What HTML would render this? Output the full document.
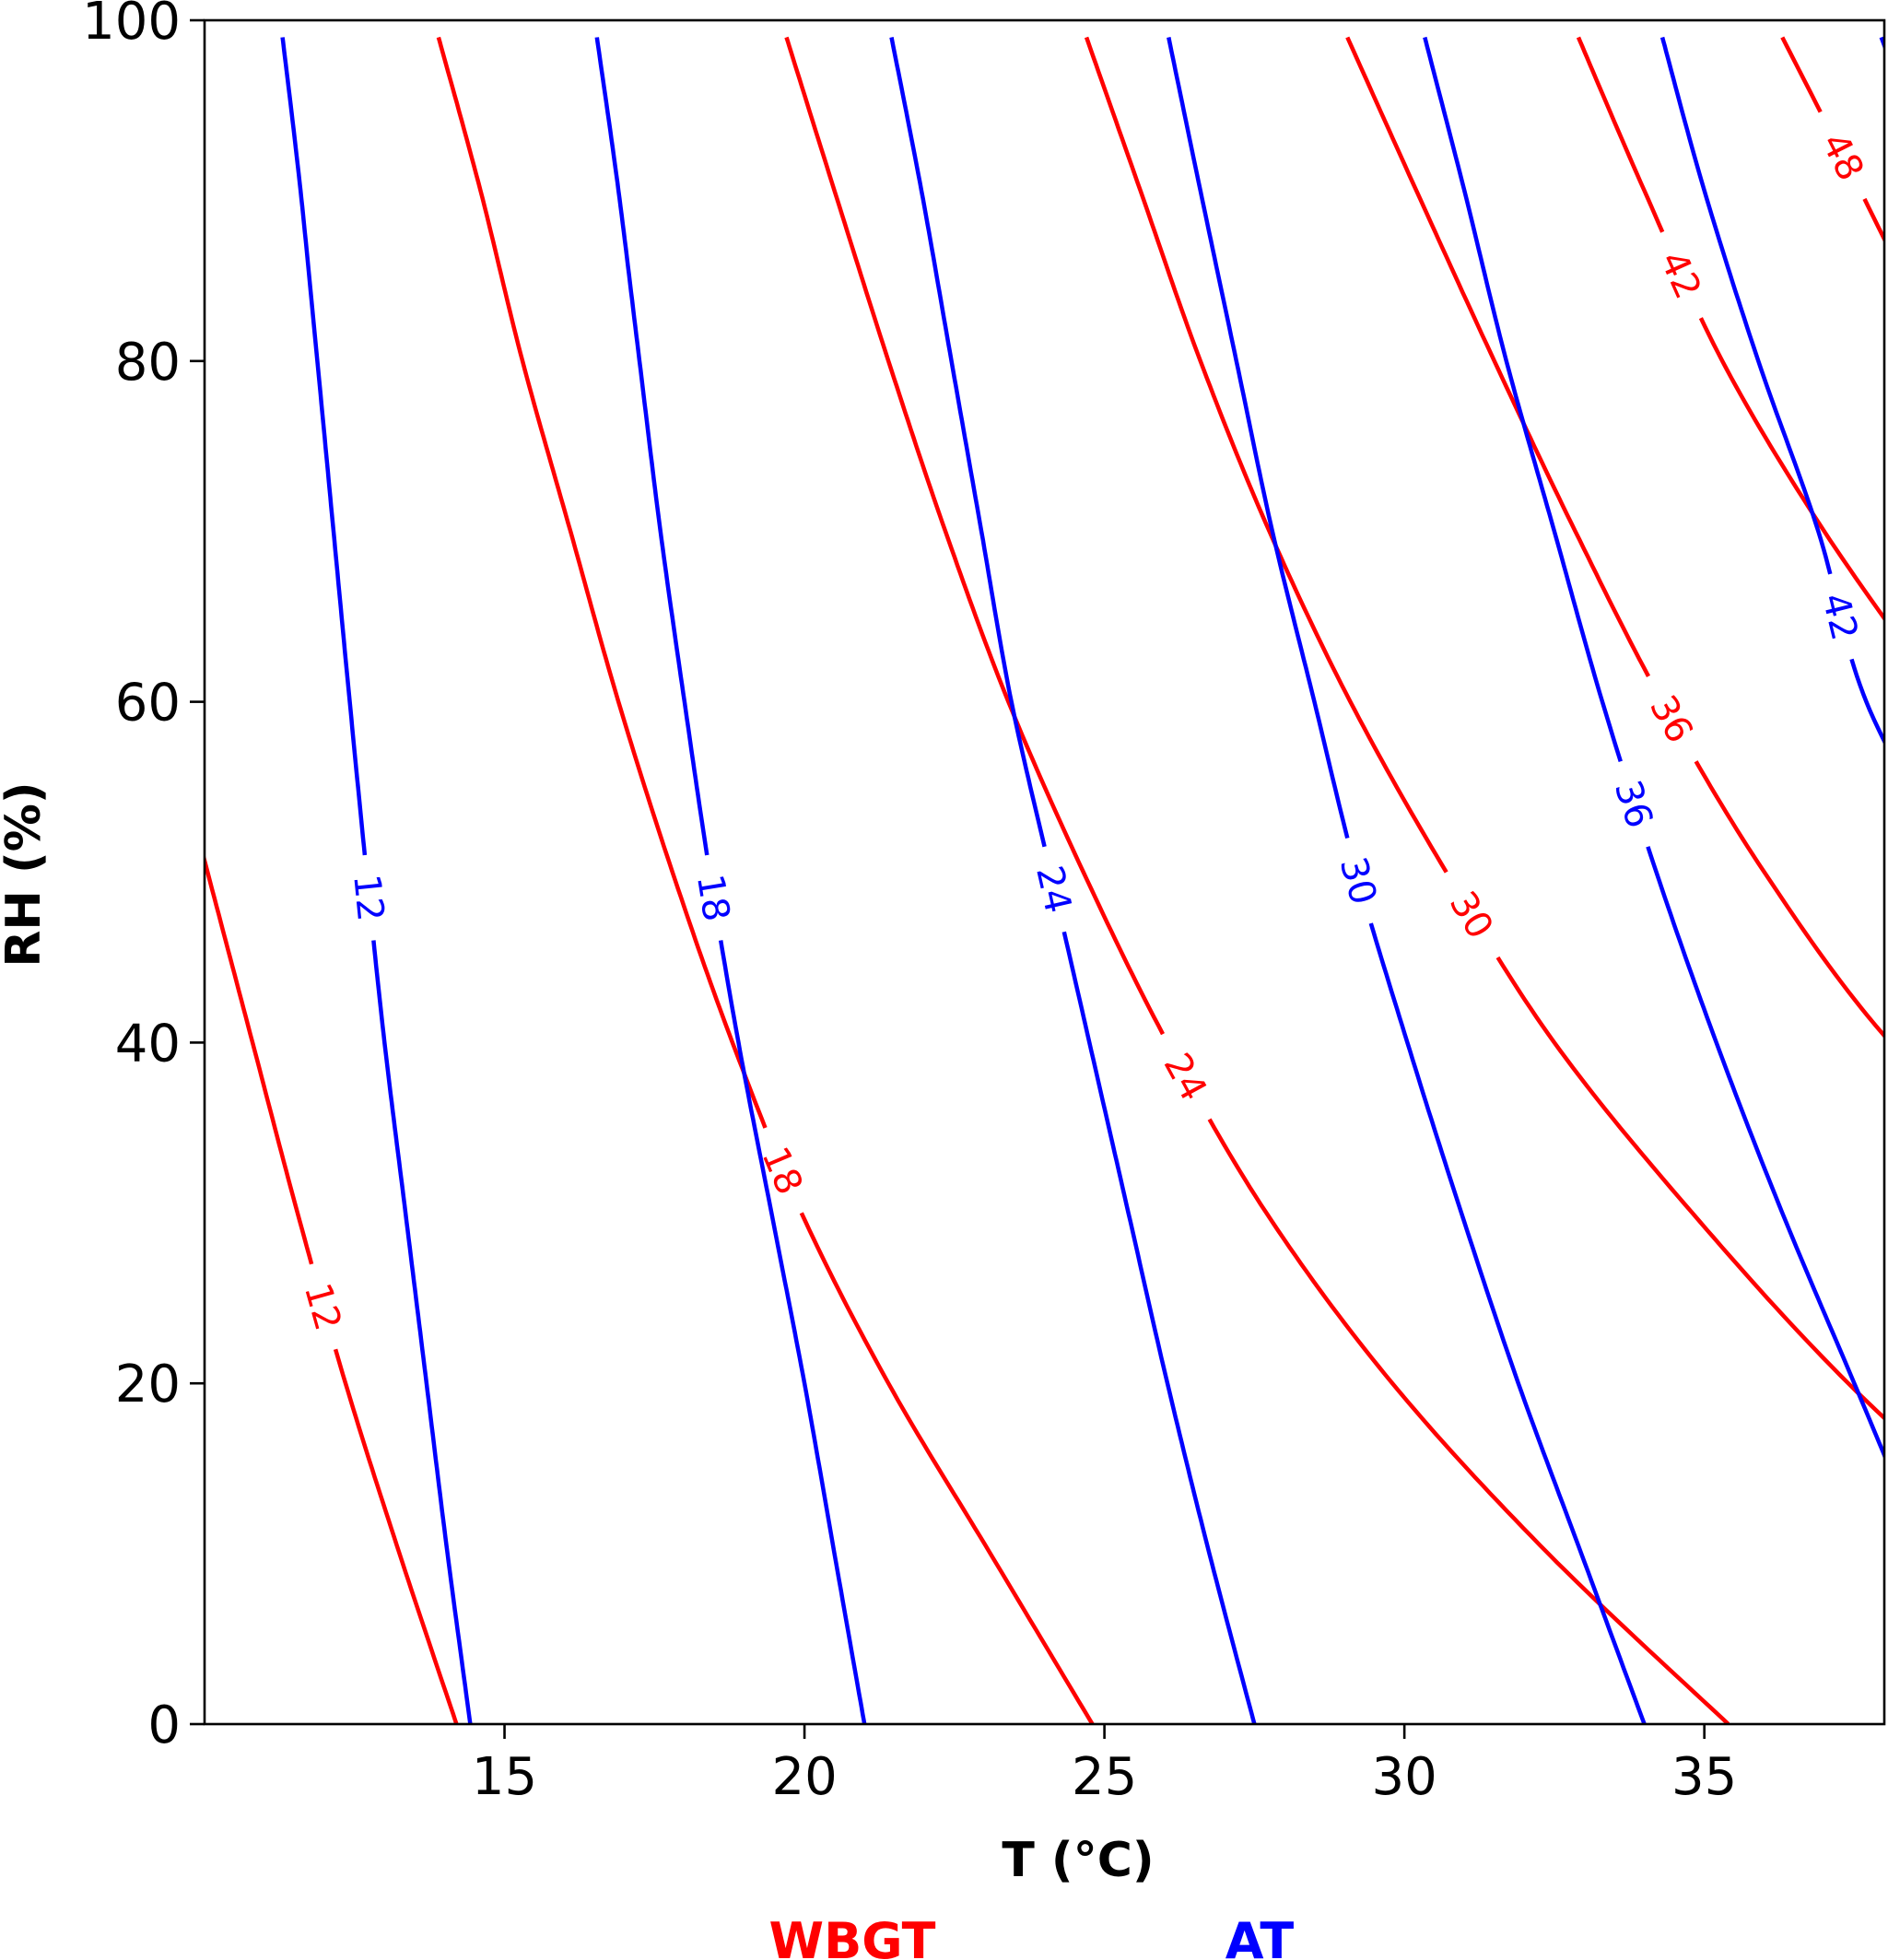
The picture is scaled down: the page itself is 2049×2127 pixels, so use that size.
<!DOCTYPE html>
<html><head><meta charset="utf-8"><style>
html,body{margin:0;padding:0;background:#fff;}
svg{display:block;font-family:"DejaVu Sans","Liberation Sans",sans-serif;}
</style></head><body>
<svg id="chart" width="2049" height="2127" viewBox="0 0 2049 2127" xmlns="http://www.w3.org/2000/svg">
<defs><clipPath id="plotclip"><rect x="222" y="22" width="1823" height="1849"/></clipPath></defs>
<g id="series" clip-path="url(#plotclip)"></g>
<g id="labels"></g>
<rect x="222" y="22" width="1823" height="1849" fill="none" stroke="#000" stroke-width="2.6"/>
<g id="axes"></g>
<text x="1170" y="2036" font-size="52" font-weight="bold" text-anchor="middle">T (°C)</text>
<text transform="translate(43,949) rotate(-90)" font-size="52" font-weight="bold" text-anchor="middle">RH (%)</text>
<text x="925" y="2125" font-size="54" font-weight="bold" fill="#ff0000" text-anchor="middle">WBGT</text>
<text x="1367" y="2125" font-size="54" font-weight="bold" fill="#0000ff" text-anchor="middle">AT</text>
</svg>
<script>
const xTicks=[15,20,25,30,35];
const yTicks=[0,20,40,60,80,100];
const rhGrid=[0,10,20,30,40,50,60,70,80,90,99];
// WBGT contours: T (°C) at each RH in rhGrid (null = outside plot)
const wbgt12=[14.2,13.25,12.35,11.55,10.8,10.05,9.3,null,null,null,null];
const wbgt18=[24.8,23.1,21.4,19.95,18.8,17.8,16.9,16.1,15.3,14.6,13.9];
const wbgt24=[35.4,32.4,29.8,27.7,26.05,24.65,23.4,22.35,21.4,20.5,19.7];
const wbgt30=[null,40.5,37.4,34.8,32.5,30.7,29.1,27.75,26.6,25.6,24.7];
const wbgt36=[null,null,null,41.0,38.1,36.0,34.3,32.85,31.5,30.2,29.05];
const wbgt42=[null,null,null,null,null,null,39.0,37.0,35.3,34.0,32.9];
const wbgt48=[null,null,null,null,null,null,null,null,39.0,37.6,36.3];
// AT contours
const at12=[14.43,14.05,13.7,13.35,13.0,12.7,12.42,12.15,11.88,11.6,11.3];
const at18=[21.0,20.5,20.0,19.45,18.9,18.42,18.0,17.6,17.25,16.9,16.54];
const at24=[27.5,26.75,26.05,25.4,24.75,24.1,23.45,22.95,22.45,21.95,21.45];
const at30=[34.0,32.95,31.9,30.95,30.05,29.2,28.5,27.8,27.2,26.6,26.07];
const at36=[40.0,38.7,37.5,36.3,35.2,34.2,33.3,32.5,31.7,31.0,30.34];
const at42=[null,null,null,null,null,39.2,37.7,36.9,35.9,35.0,34.3];
const at48=[null,null,null,null,null,null,null,null,40.0,38.9,37.95];
const wbgtLevels=[12,18,24,30,36,42,48];
const atLevels=[12,18,24,30,36,42,48];
const wbgtLabelRH=[24.6,32.6,38.1,47.7,59,85,92];
const atLabelRH=[48.5,48.5,49,49.5,54,65,null];

const X0=222,X1=2045,Y0=1871,Y1=22;
function xs(t){return X0+(t-10)/28*(X1-X0);}
function ys(rh){return Y0-rh/100*(Y0-Y1);}
const NS="http://www.w3.org/2000/svg";
const axes=document.getElementById('axes');
xTicks.forEach(v=>{
 const l=document.createElementNS(NS,'line');
 l.setAttribute('x1',xs(v));l.setAttribute('x2',xs(v));l.setAttribute('y1',Y0);l.setAttribute('y2',Y0+16);
 l.setAttribute('stroke','#000');l.setAttribute('stroke-width','2.6');
 
 
 axes.appendChild(l);
 const t=document.createElementNS(NS,'text');
 t.setAttribute('x',xs(v));t.setAttribute('y',Y0+76);t.setAttribute('font-size','56');t.setAttribute('text-anchor','middle');
 t.textContent=v;
 
 
 axes.appendChild(t);
});
yTicks.forEach(v=>{
 const l=document.createElementNS(NS,'line');
 l.setAttribute('x1',X0-16);l.setAttribute('x2',X0);l.setAttribute('y1',ys(v));l.setAttribute('y2',ys(v));
 l.setAttribute('stroke','#000');l.setAttribute('stroke-width','2.6');
 
 
 axes.appendChild(l);
 const t=document.createElementNS(NS,'text');
 t.setAttribute('x',X0-26);t.setAttribute('y',ys(v)+20);t.setAttribute('font-size','56');t.setAttribute('text-anchor','end');
 t.textContent=v;
 
 
 axes.appendChild(t);
});

function densify(arr){
 const pts=[];
 for(let i=0;i<arr.length;i++) if(arr[i]!==null) pts.push([xs(arr[i]),ys(rhGrid[i]),rhGrid[i]]);
 const out=[];
 for(let i=0;i<pts.length-1;i++){
  const p0=pts[Math.max(0,i-1)],p1=pts[i],p2=pts[i+1],p3=pts[Math.min(pts.length-1,i+2)];
  for(let s=0;s<20;s++){
   const u=s/20,u2=u*u,u3=u2*u;
   const f=(a,b,c,d)=>0.5*((2*b)+(-a+c)*u+(2*a-5*b+4*c-d)*u2+(-a+3*b-3*c+d)*u3);
   out.push([f(p0[0],p1[0],p2[0],p3[0]),f(p0[1],p1[1],p2[1],p3[1])]);
  }
 }
 out.push([pts[pts.length-1][0],pts[pts.length-1][1]]);
 return out;
}
const series=document.getElementById('series'), labels=document.getElementById('labels');
function drawContour(arr,level,labelRH,color,name){
 const pts=densify(arr);
 let center=null,angle=0;
 if(labelRH!==null){
  const cy=ys(labelRH);
  let best=0,bd=1e9;
  pts.forEach((p,i)=>{const d=Math.abs(p[1]-cy);if(d<bd){bd=d;best=i;}});
  center=pts[best];
  const a=pts[Math.max(0,best-3)],b=pts[Math.min(pts.length-1,best+3)];
  angle=Math.atan2(b[1]-a[1],b[0]-a[0])*180/Math.PI;
  if(angle>90)angle-=180; if(angle<-90)angle+=180;
 }
 const segs=[];let cur=[];
 pts.forEach(p=>{
  if(center && Math.hypot(p[0]-center[0],p[1]-center[1])<44){ if(cur.length>1)segs.push(cur); cur=[]; }
  else cur.push(p);
 });
 if(cur.length>1)segs.push(cur);
 segs.forEach(s=>{
  const path=document.createElementNS(NS,'path');
  path.setAttribute('d','M'+s.map(p=>p[0].toFixed(1)+','+p[1].toFixed(1)).join('L'));
  path.setAttribute('fill','none');path.setAttribute('stroke',color);path.setAttribute('stroke-width','4.5');
  path.setAttribute('stroke-linejoin','round');
  
  
  series.appendChild(path);
 });
 if(center){
  const t=document.createElementNS(NS,'text');
  t.setAttribute('transform','translate('+center[0].toFixed(1)+','+center[1].toFixed(1)+') rotate('+angle.toFixed(1)+')');
  t.setAttribute('font-size','40');t.setAttribute('fill',color);t.setAttribute('text-anchor','middle');t.setAttribute('dy','14');
  t.textContent=level;
  
  
  labels.appendChild(t);
 }
}
const wbgtData=[wbgt12,wbgt18,wbgt24,wbgt30,wbgt36,wbgt42,wbgt48];
const atData=[at12,at18,at24,at30,at36,at42,at48];
wbgtData.forEach((a,i)=>drawContour(a,wbgtLevels[i],wbgtLabelRH[i],'#ff0000','wbgt-'+wbgtLevels[i]));
atData.forEach((a,i)=>drawContour(a,atLevels[i],atLabelRH[i],'#0000ff','at-'+atLevels[i]));
</script>
</body></html>
